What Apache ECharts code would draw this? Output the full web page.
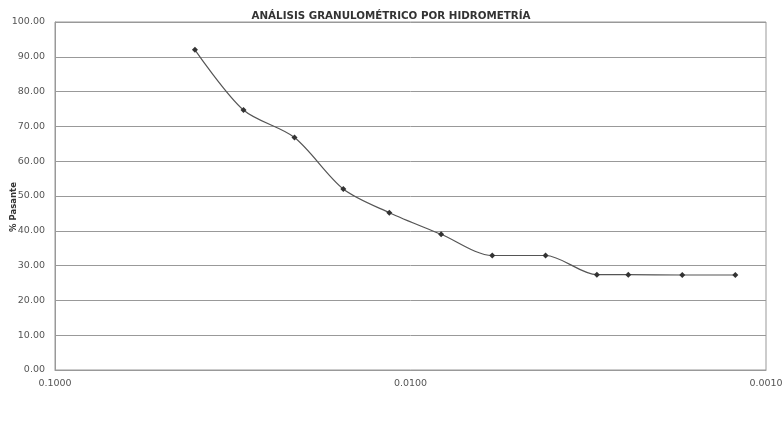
<!DOCTYPE html>
<html>
<head>
<meta charset="utf-8">
<script src="https://cdn.jsdelivr.net/npm/echarts@6/dist/echarts.min.js"></script>
<style>html,body{margin:0;padding:0;background:#fff}#c{width:782px;height:439px}</style>
</head>
<body>
<div id="c"></div>
<script>
var titleText = 'ANÁLISIS GRANULOMÉTRICO POR HIDROMETRÍA';
var yAxisLabel = '% Pasante';
var diameters = [0.0404, 0.0295, 0.0212, 0.01545, 0.01147, 0.0082, 0.00589, 0.00417, 0.00299, 0.00244, 0.00172, 0.00122];
var passing = [92.0, 74.7, 66.8, 52.0, 45.2, 39.0, 32.9, 32.9, 27.4, 27.4, 27.3, 27.3];

var data = diameters.map(function (d, i) { return [d, passing[i]]; });
var chart = echarts.init(document.getElementById('c'));
chart.setOption({
  animation: false,
  backgroundColor: '#ffffff',
  textStyle: { fontFamily: 'DejaVu Sans' },
  title: {
    text: titleText, left: 'center', top: 6,
    textStyle: { fontSize: 10.3, fontWeight: 'bold', color: '#333', fontFamily: 'DejaVu Sans' }
  },
  grid: { left: 55, right: 16, top: 22, bottom: 69, show: true, borderColor: '#999', borderWidth: 1, outerBoundsMode: 'none', containLabel: false },
  xAxis: {
    type: 'log', logBase: 10, min: 0.001, max: 0.1, inverse: true,
    axisLine: { show: true, lineStyle: { color: '#999' } },
    axisTick: { show: false },
    splitLine: { show: false },
    minorTick: { show: false },
    axisLabel: { color: '#555', fontSize: 9.5, margin: 9, fontFamily: 'DejaVu Sans', formatter: function (v) { return Number(v).toFixed(4); } }
  },
  yAxis: {
    type: 'value', min: 0, max: 100, interval: 10,
    axisLine: { show: true, lineStyle: { color: '#999' } },
    axisTick: { show: false },
    splitLine: { show: true, lineStyle: { color: '#999', width: 1 } },
    axisLabel: { color: '#555', fontSize: 9.5, margin: 10, fontFamily: 'DejaVu Sans', formatter: function (v) { return v.toFixed(2); } }
  },
  graphic: [{
    type: 'text', x: 14, y: 207, rotation: Math.PI / 2,
    style: { text: yAxisLabel, fontSize: 8.5, fontWeight: 'bold', fill: '#333', align: 'center', verticalAlign: 'middle', fontFamily: 'DejaVu Sans' }
  }],
  series: [{
    type: 'line', data: data, smooth: 0.3,
    symbol: 'diamond', symbolSize: 6,
    itemStyle: { color: '#333' },
    lineStyle: { color: '#555', width: 1.2 }
  }]
});
</script>
</body>
</html>
